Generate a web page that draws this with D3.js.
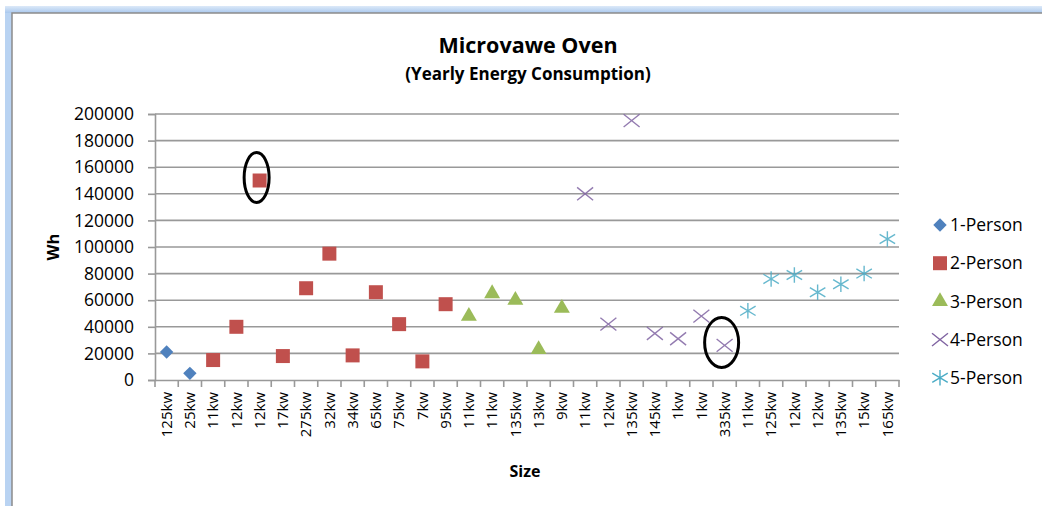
<!DOCTYPE html>
<html>
<head>
<meta charset="utf-8">
<script src="https://cdn.jsdelivr.net/npm/d3@7"></script>
<style>
  html, body { margin: 0; padding: 0; background: #fff; }
  svg { display: block; }
  text { font-family: "Open Sans", "Liberation Sans", sans-serif; fill: #000; }
</style>
</head>
<body>
<svg id="chart" width="1042" height="506"></svg>
<script>
// ---- data ----
const categories = ["125kw","25kw","11kw","12kw","12kw","17kw","275kw","32kw","34kw","65kw","75kw","7kw","95kw",
  "11kw","11kw","135kw","13kw","9kw","11kw","12kw","135kw","145kw","1kw","1kw","335kw","11kw","125kw","12kw","12kw","135kw","15kw","165kw"];
const seriesNames = ["1-Person","2-Person","3-Person","4-Person","5-Person"];
// category index where each series' points sit
const person1Idx = [0, 1];
const person1Val = [21000, 5000];
const person2Idx = [2, 3, 4, 5, 6, 7, 8, 9, 10, 11, 12];
const person2Val = [15000, 40000, 150000, 18000, 69000, 95000, 18500, 66000, 42000, 14000, 57000];
const person3Idx = [13, 14, 15, 16, 17];
const person3Val = [48000, 65000, 60000, 23000, 54000];
const person4Idx = [18, 19, 20, 21, 22, 23, 24];
const person4Val = [140000, 42000, 195000, 35000, 31000, 48000, 26000];
const person5Idx = [25, 26, 27, 28, 29, 30, 31];
const person5Val = [52000, 76000, 79000, 66000, 72000, 80000, 106000];
const yTicks = [0, 20000, 40000, 60000, 80000, 100000, 120000, 140000, 160000, 180000, 200000];
// highlighted (circled) points: [category index, value]
const circled = [[4, 150000], [24, 26000]];

const colors = ["#4F81BD", "#C0504D", "#9BBB59", "#8064A2", "#4BACC6"];

const svg = d3.select("#chart");

// ---- window frame ----
const grad = svg.append("defs").append("linearGradient").attr("id", "frameGrad")
  .attr("x1", 0).attr("y1", 0).attr("x2", 0).attr("y2", 1);
grad.append("stop").attr("offset", "0%").attr("stop-color", "#dce9f8");
grad.append("stop").attr("offset", "100%").attr("stop-color", "#a9c8ee");
svg.append("rect").attr("x", 5).attr("y", 6).attr("width", 1040).attr("height", 505).attr("fill", "#b9d3f2");
svg.append("rect").attr("x", 5).attr("y", 6).attr("width", 1040).attr("height", 7).attr("fill", "url(#frameGrad)");
svg.append("rect").attr("x", 12).attr("y", 13).attr("width", 1035).attr("height", 500)
  .attr("fill", "#fff").attr("stroke", "#8c8c8c").attr("stroke-width", 1.5);

// ---- scales ----
const plot = { left: 155, right: 899, top: 114, bottom: 380 };
const x = d3.scaleBand().domain(d3.range(categories.length)).range([plot.left, plot.right]).padding(0);
const y = d3.scaleLinear().domain([0, 200000]).range([plot.bottom, plot.top]);
const cx = i => x(i) + x.bandwidth() / 2;

const axisColor = "#999999";

// ---- gridlines ----
svg.append("g").selectAll("line").data(yTicks.slice(1)).join("line")
  .attr("x1", plot.left).attr("x2", plot.right)
  .attr("y1", d => y(d)).attr("y2", d => y(d))
  .attr("stroke", axisColor).attr("stroke-width", 1.6);

// ---- y axis ----
const yAxis = svg.append("g").attr("transform", `translate(${plot.left},0)`)
  .call(d3.axisLeft(y).tickValues(yTicks).tickFormat(d3.format("d")).tickSize(7).tickPadding(14));
yAxis.select(".domain").attr("stroke", axisColor).attr("stroke-width", 1.6);
yAxis.selectAll(".tick line").attr("stroke", axisColor).attr("stroke-width", 1.6);
yAxis.selectAll("text").attr("font-size", 17.5).attr("font-family", "Open Sans").attr("fill", "#000");

// ---- x axis ----
const xAxis = svg.append("g").attr("transform", `translate(0,${plot.bottom})`)
  .call(d3.axisBottom(x).tickFormat(i => categories[i]).tickSize(0));
xAxis.select(".domain").attr("stroke", axisColor).attr("stroke-width", 1.6);
// ticks at category boundaries
svg.append("g").selectAll("line").data(d3.range(categories.length + 1)).join("line")
  .attr("x1", i => plot.left + i * x.bandwidth()).attr("x2", i => plot.left + i * x.bandwidth())
  .attr("y1", plot.bottom).attr("y2", plot.bottom + 7)
  .attr("stroke", axisColor).attr("stroke-width", 1.6);
xAxis.selectAll(".tick text")
  .attr("font-size", 15).attr("font-family", "Open Sans").attr("fill", "#000")
  .attr("text-anchor", "end")
  .attr("transform", "rotate(-90)")
  .attr("x", -12).attr("y", 0).attr("dy", "0.35em");

// ---- titles ----
svg.append("text").attr("x", 528).attr("y", 53).attr("text-anchor", "middle")
  .attr("font-size", 21.5).attr("font-weight", "bold").text("Microvawe Oven");
svg.append("text").attr("x", 528).attr("y", 80).attr("text-anchor", "middle")
  .attr("font-size", 17).attr("font-weight", "bold").text("(Yearly Energy Consumption)");
svg.append("text").attr("transform", "translate(59,247) rotate(-90)").attr("text-anchor", "middle")
  .attr("font-size", 16.5).attr("font-weight", "bold").text("Wh");
svg.append("text").attr("x", 525).attr("y", 477).attr("text-anchor", "middle")
  .attr("font-size", 16).attr("font-weight", "bold").text("Size");

// ---- marker symbols ----
const symStar = {
  draw(ctx, size) {
    const r = Math.sqrt(size) / 2;
    ctx.moveTo(0, -r); ctx.lineTo(0, r);
    ctx.moveTo(-r, -r * 0.6); ctx.lineTo(r, r * 0.6);
    ctx.moveTo(-r, r * 0.6); ctx.lineTo(r, -r * 0.6);
  }
};
const symX = {
  draw(ctx, size) {
    const r = Math.sqrt(size) / 2;
    ctx.moveTo(-r, -r * 0.8); ctx.lineTo(r, r * 0.8);
    ctx.moveTo(-r, r * 0.8); ctx.lineTo(r, -r * 0.8);
  }
};
const markers = [
  { path: d3.symbol(d3.symbolSquare, 90)(), rot: 45, fill: true },
  { path: d3.symbol(d3.symbolSquare, 196)(), rot: 0, fill: true },
  { path: d3.symbol(d3.symbolTriangle, 110)(), rot: 0, fill: true },
  { path: d3.symbol(symX, 256)(), rot: 0, fill: false },
  { path: d3.symbol(symStar, 240)(), rot: 0, fill: false }
];

const allSeries = [
  [person1Idx, person1Val], [person2Idx, person2Val], [person3Idx, person3Val],
  [person4Idx, person4Val], [person5Idx, person5Val]
];

allSeries.forEach(([idx, vals], s) => {
  const pts = idx.map((c, k) => ({ c, v: vals[k] }));
  const m = markers[s];
  svg.append("g").selectAll("path").data(pts).join("path")
    .attr("d", m.path)
    .attr("transform", d => `translate(${cx(d.c)},${y(d.v)}) rotate(${m.rot})`)
    .attr("fill", m.fill ? colors[s] : "none")
    .attr("stroke", m.fill ? "none" : colors[s])
    .attr("stroke-width", m.fill ? 0 : 1.4)
    .attr("opacity", m.fill ? 1 : 0.85);
});

// ---- annotation ellipses ----
svg.append("g").selectAll("ellipse").data(circled).join("ellipse")
  .attr("cx", d => cx(d[0]) - 3)
  .attr("cy", d => y(d[1]) - 3)
  .attr("rx", (d, i) => i === 0 ? 12.5 : 17)
  .attr("ry", 25)
  .attr("fill", "none").attr("stroke", "#000").attr("stroke-width", 3);

// ---- legend ----
const legend = svg.append("g");
seriesNames.forEach((name, s) => {
  const ly = 225 + s * 38.2;
  const m = markers[s];
  legend.append("path").attr("d", m.path)
    .attr("transform", `translate(940,${ly}) rotate(${m.rot})`)
    .attr("fill", m.fill ? colors[s] : "none")
    .attr("stroke", m.fill ? "none" : colors[s])
    .attr("stroke-width", m.fill ? 0 : 1.4);
  legend.append("text").attr("x", 950).attr("y", ly).attr("dy", "0.35em")
    .attr("font-size", 17.5).text(name);
});
</script>
</body>
</html>
